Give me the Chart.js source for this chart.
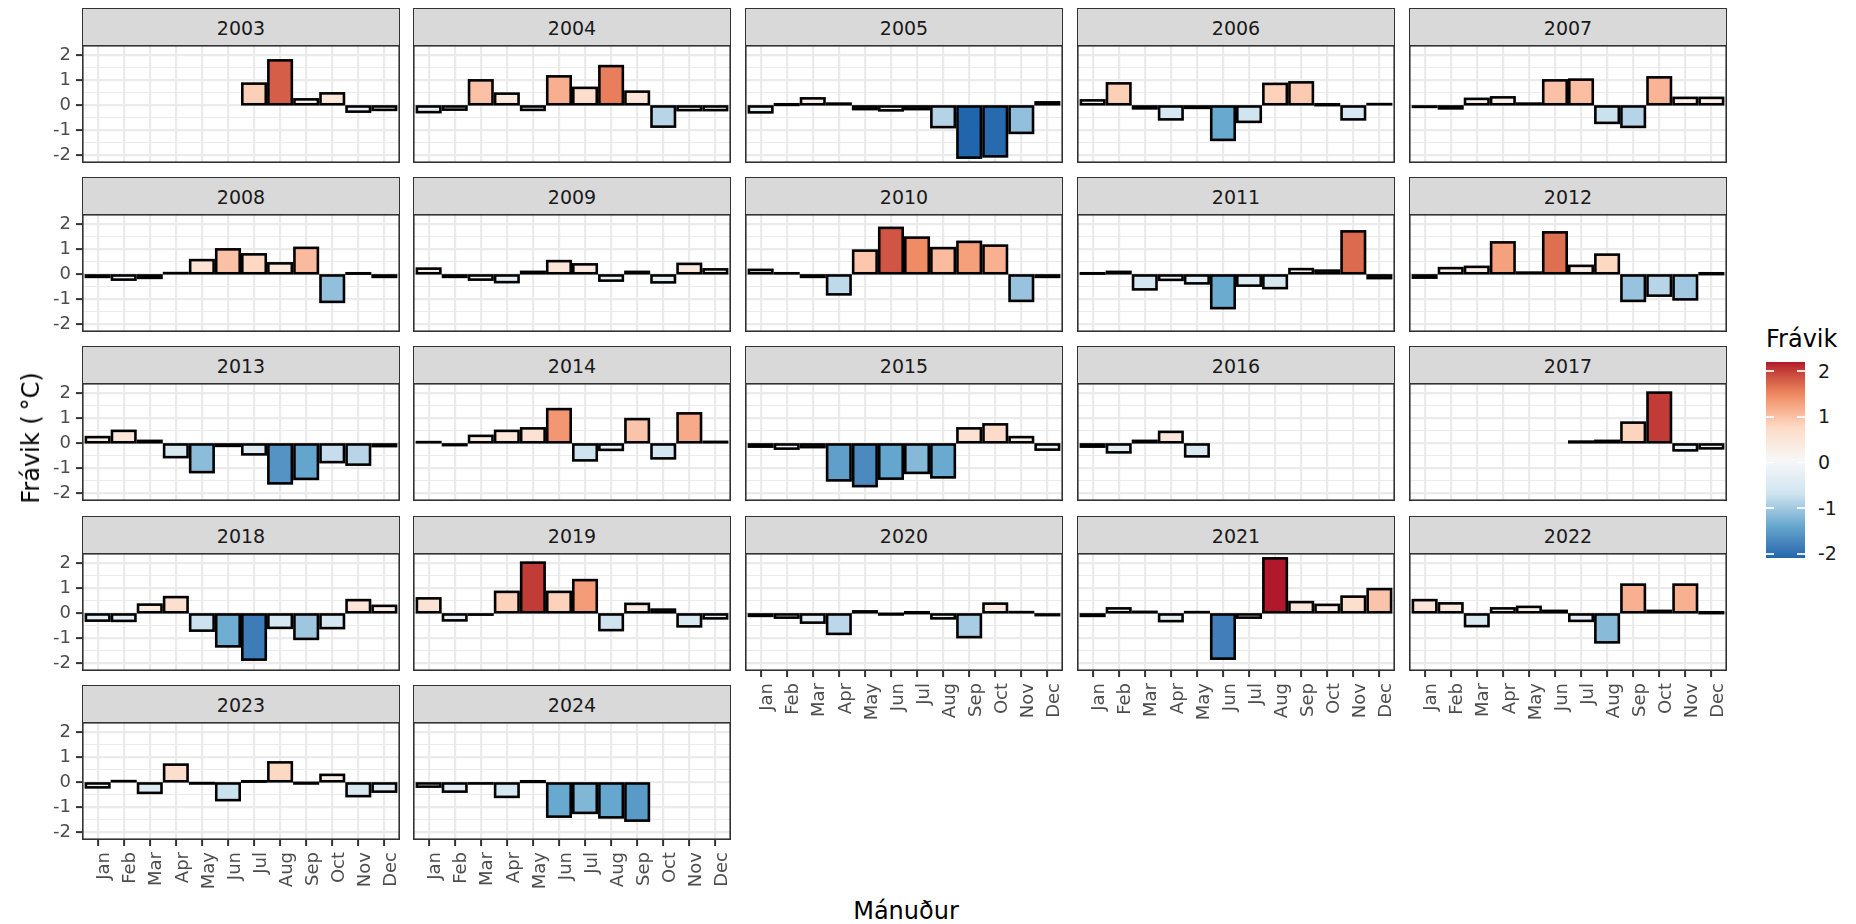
<!DOCTYPE html>
<html>
<head>
<meta charset="utf-8">
<script src="https://cdn.jsdelivr.net/npm/chart.js@4.4.1/dist/chart.umd.min.js"></script>
<style>
  html, body { margin: 0; padding: 0; background: #fff; }
  #fig { position: relative; width: 1856px; height: 924px; overflow: hidden; font-family: 'DejaVu Sans', sans-serif; }
  .strip { position: absolute; box-sizing: border-box; background: #D9D9D9; border: 1.6px solid #333; color: #1A1A1A;
           font-size: 19px; line-height: 1; display: flex; align-items: center; justify-content: center; padding-top: 2px; }
  canvas { position: absolute; }
  .txt { position: absolute; white-space: nowrap; line-height: 1; }
</style>
</head>
<body>
<div id="fig"></div>
<script>
// Monthly temperature anomaly (°C) per year
const months = ['Jan','Feb','Mar','Apr','May','Jun','Jul','Aug','Sep','Oct','Nov','Dec'];
const years = [2003,2004,2005,2006,2007,2008,2009,2010,2011,2012,2013,2014,2015,2016,2017,2018,2019,2020,2021,2022,2023,2024];

const y2003 = [null,null,null,null,null,null,0.87,1.8,0.24,0.48,-0.25,-0.18];
const y2004 = [-0.27,-0.17,1.0,0.47,-0.18,1.16,0.7,1.57,0.55,-0.85,-0.19,-0.19];
const y2005 = [-0.28,0.02,0.28,0.07,-0.15,-0.2,-0.15,-0.87,-2.09,-2.04,-1.1,0.12];
const y2006 = [0.2,0.88,-0.12,-0.56,-0.1,-1.38,-0.66,0.86,0.92,0.01,-0.56,0.05];
const y2007 = [-0.06,-0.12,0.26,0.32,0.07,1.0,1.03,-0.7,-0.86,1.12,0.3,0.3];
const y2008 = [-0.1,-0.21,-0.14,0.05,0.57,1.0,0.8,0.44,1.06,-1.1,0.03,-0.1];
const y2009 = [0.23,-0.1,-0.21,-0.31,0.1,0.53,0.4,-0.25,0.1,-0.32,0.42,0.2];
const y2010 = [0.18,0.04,-0.1,-0.8,0.95,1.86,1.47,1.05,1.3,1.15,-1.06,-0.1];
const y2011 = [0.03,0.1,-0.6,-0.22,-0.36,-1.35,-0.45,-0.55,0.21,0.15,1.72,-0.15];
const y2012 = [-0.13,0.25,0.3,1.28,0.07,1.68,0.34,0.79,-1.06,-0.85,-1.0,0.01];
const y2013 = [0.25,0.5,0.1,-0.55,-1.15,-0.1,-0.44,-1.6,-1.42,-0.75,-0.85,-0.11];
const y2014 = [0.05,-0.07,0.3,0.5,0.6,1.37,-0.68,-0.26,0.97,-0.6,1.2,0.06];
const y2015 = [-0.13,-0.21,-0.15,-1.48,-1.71,-1.41,-1.18,-1.36,0.6,0.76,0.25,-0.25];
const y2016 = [-0.13,-0.36,0.1,0.46,-0.52,null,null,null,null,null,null,null];
const y2017 = [null,null,null,null,null,null,0.07,0.1,0.83,2.03,-0.28,-0.2];
const y2018 = [-0.29,-0.3,0.35,0.65,-0.69,-1.32,-1.85,-0.58,-1.02,-0.59,0.53,0.3];
const y2019 = [0.6,-0.28,-0.05,0.86,2.03,0.86,1.33,-0.67,0.38,0.15,-0.52,-0.2];
const y2020 = [-0.1,-0.17,-0.37,-0.82,0.08,-0.02,0.01,-0.2,-0.95,0.39,0.05,-0.07];
const y2021 = [-0.1,0.2,0.06,-0.31,0.05,-1.81,-0.17,2.2,0.45,0.34,0.67,0.97];
const y2022 = [0.53,0.4,-0.51,0.2,0.26,0.1,-0.3,-1.16,1.15,0.1,1.15,0.01];
const y2023 = [-0.2,0.05,-0.42,0.71,-0.03,-0.71,0.03,0.8,-0.02,0.3,-0.55,-0.37];
const y2024 = [-0.17,-0.37,-0.04,-0.58,0.02,-1.37,-1.22,-1.4,-1.53,null,null,null];

const series = [y2003,y2004,y2005,y2006,y2007,y2008,y2009,y2010,y2011,y2012,y2013,y2014,
                y2015,y2016,y2017,y2018,y2019,y2020,y2021,y2022,y2023,y2024];

const yTicks = [-2,-1.5,-1,-0.5,0,0.5,1,1.5,2];
const legendTicks = [2,1,0,-1,-2];

// ---- diverging fill scale (RdBu, interpolated in CIE Lab) ----
const palette = ['#2166AC','#67A9CF','#D1E5F0','#F7F7F7','#FDDBC7','#EF8A62','#B2182B'];
const WHITE = [0.95047, 1.0, 1.08883];
const EPS = 216/24389, KAPPA = 24389/27;
function toLin(c){ c /= 255; return c <= 0.04045 ? c/12.92 : Math.pow((c+0.055)/1.055, 2.4); }
function fromLin(c){ const v = c <= 0.0031308 ? 12.92*c : 1.055*Math.pow(c, 1/2.4) - 0.055; return Math.round(Math.max(0, Math.min(1, v))*255); }
function fLab(t){ return t > EPS ? Math.cbrt(t) : (KAPPA*t + 16)/116; }
function fInv(t){ const t3 = t*t*t; return t3 > EPS ? t3 : (116*t - 16)/KAPPA; }
function hexToLab(h){
  const [r,g,b] = [1,3,5].map(i => toLin(parseInt(h.slice(i,i+2),16)));
  const X = 0.4124564*r + 0.3575761*g + 0.1804375*b;
  const Y = 0.2126729*r + 0.7151522*g + 0.0721750*b;
  const Z = 0.0193339*r + 0.1191920*g + 0.9503041*b;
  const fx = fLab(X/WHITE[0]), fy = fLab(Y/WHITE[1]), fz = fLab(Z/WHITE[2]);
  return [116*fy - 16, 500*(fx - fy), 200*(fy - fz)];
}
function labToCss([L,a,b]){
  const fy = (L + 16)/116, fx = fy + a/500, fz = fy - b/200;
  const X = fInv(fx)*WHITE[0], Y = fInv(fy)*WHITE[1], Z = fInv(fz)*WHITE[2];
  const r =  3.2404542*X - 1.5371385*Y - 0.4985314*Z;
  const g = -0.9692660*X + 1.8760108*Y + 0.0415560*Z;
  const bb = 0.0556434*X - 0.2040259*Y + 1.0572252*Z;
  return `rgb(${fromLin(r)},${fromLin(g)},${fromLin(bb)})`;
}
const paletteLab = palette.map(hexToLab);

const allValues = series.flat().filter(v => v !== null);
const lo = Math.min(...allValues), hi = Math.max(...allValues);

function fillFor(v){
  let t = (v - lo)/(hi - lo);
  t = Math.max(0, Math.min(1, t));
  const s = t*(paletteLab.length - 1);
  const i = Math.min(Math.floor(s), paletteLab.length - 2);
  const f = s - i;
  const A = paletteLab[i], B = paletteLab[i+1];
  return labToCss([A[0]+(B[0]-A[0])*f, A[1]+(B[1]-A[1])*f, A[2]+(B[2]-A[2])*f]);
}

// ---- layout ----
const FONT = "'DejaVu Sans', sans-serif";
const colLeft = [82, 413, 745, 1077, 1409];
const stripTop = [8, 177, 346, 516, 685];
const panelW = 318, stripH = 38, panelH = 118;
const Y_AXIS_W = 50, X_AXIS_H = 70;
const yPad = 0.05*(hi - lo);
const yMin = lo - yPad, yMax = hi + yPad;

const fig = document.getElementById('fig');

function zeroPadding(s){ s.paddingLeft = 0; s.paddingRight = 0; s.paddingTop = 0; s.paddingBottom = 0; }

// black outline around each bar, stroked on the bar edges
const outlinePlugin = {
  id: 'barOutline',
  afterDatasetsDraw(chart){
    const {ctx, chartArea: a} = chart;
    ctx.save();
    ctx.beginPath(); ctx.rect(a.left, a.top, a.right - a.left, a.bottom - a.top); ctx.clip();
    ctx.strokeStyle = '#000'; ctx.lineWidth = 2.6;
    chart.getDatasetMeta(0).data.forEach(bar => {
      const {x, y, base, width} = bar.getProps(['x','y','base','width'], true);
      ctx.strokeRect(x - width/2, Math.min(y, base), width, Math.abs(base - y));
    });
    ctx.restore();
  }
};

// panel frame
const framePlugin = {
  id: 'panelFrame',
  afterDraw(chart){
    const {ctx, chartArea: a} = chart;
    ctx.save();
    ctx.strokeStyle = '#333'; ctx.lineWidth = 1.6;
    ctx.strokeRect(a.left + 0.8, a.top + 0.8, a.right - a.left - 1.6, a.bottom - a.top - 1.6);
    ctx.restore();
  }
};

years.forEach((yr, i) => {
  const r = Math.floor(i/5), c = i % 5;
  const isLeft = c === 0;
  const isBottom = i + 5 >= years.length;
  const left = colLeft[c], sTop = stripTop[r], pTop = sTop + stripH - 1;

  const strip = document.createElement('div');
  strip.className = 'strip';
  strip.style.left = left + 'px'; strip.style.top = sTop + 'px';
  strip.style.width = panelW + 'px'; strip.style.height = stripH + 'px';
  strip.textContent = String(yr);
  fig.appendChild(strip);

  const cv = document.createElement('canvas');
  const cw = panelW + (isLeft ? Y_AXIS_W : 0);
  const ch = panelH + (isBottom ? X_AXIS_H : 0);
  cv.width = cw; cv.height = ch;
  cv.style.width = cw + 'px'; cv.style.height = ch + 'px';
  cv.style.left = (left - (isLeft ? Y_AXIS_W : 0)) + 'px';
  cv.style.top = pTop + 'px';
  fig.appendChild(cv);

  const pts = [];
  series[i].forEach((v, k) => { if (v !== null) pts.push({x: k + 1, y: v}); });

  new Chart(cv, {
    type: 'bar',
    data: { datasets: [{ data: pts, backgroundColor: pts.map(p => fillFor(p.y)), borderWidth: 0,
                         barPercentage: 0.9, categoryPercentage: 1.0 }] },
    options: {
      responsive: false, animation: false, events: [],
      layout: { padding: 0 },
      plugins: { legend: { display: false }, tooltip: { enabled: false } },
      scales: {
        x: {
          type: 'linear', min: 0.4, max: 12.6, offset: false,
          afterBuildTicks: s => { s.ticks = months.map((m, k) => ({ value: k + 1 })); },
          afterFit: s => { s.height = isBottom ? X_AXIS_H : 0; zeroPadding(s); },
          border: { display: false },
          grid: { offset: false, color: '#EBEBEB', lineWidth: 2.2, drawTicks: isBottom,
                  tickLength: 6, tickColor: '#333', tickWidth: 2 },
          ticks: { display: isBottom, autoSkip: false, minRotation: 90, maxRotation: 90,
                   padding: 6, labelOffset: 7, color: '#4D4D4D', font: { family: FONT, size: 18 },
                   callback: v => months[v - 1] }
        },
        y: {
          type: 'linear', min: yMin, max: yMax,
          afterBuildTicks: s => { s.ticks = yTicks.map(v => ({ value: v })); },
          afterFit: s => { s.width = isLeft ? Y_AXIS_W : 0; zeroPadding(s); },
          border: { display: false },
          grid: { color: '#EBEBEB',
                  lineWidth: ctx => Number.isInteger(ctx.tick.value) ? 2.2 : 1.1,
                  drawTicks: isLeft, tickLength: 6, tickWidth: 2,
                  tickColor: ctx => Number.isInteger(ctx.tick.value) ? '#333' : 'rgba(0,0,0,0)' },
          ticks: { display: isLeft, autoSkip: false, padding: 5, color: '#4D4D4D', font: { family: FONT, size: 18 },
                   callback: v => Number.isInteger(v) ? String(v) : '' }
        }
      }
    },
    plugins: [outlinePlugin, framePlugin]
  });
});

// ---- axis titles ----
function addText(text, css){
  const d = document.createElement('div');
  d.className = 'txt';
  d.textContent = text;
  Object.assign(d.style, css);
  fig.appendChild(d);
  return d;
}
addText('Mánuður', { left: '906px', top: '899px', fontSize: '24px', color: '#000', transform: 'translateX(-50%)' });
addText('Frávik (\u2009°C)', { left: '31px', top: '438px', fontSize: '24px', color: '#000',
                               transform: 'translate(-50%,-50%) rotate(-90deg)' });

// ---- colour bar legend ----
const LG = { left: 1766, top: 362, width: 39, height: 196 };
addText('Frávik', { left: '1766px', top: '327px', fontSize: '24px', color: '#000' });
const stops = [];
for (let k = 0; k <= 40; k++) {
  const v = lo + (hi - lo)*k/40;
  stops.push(`${fillFor(v)} ${(k*2.5).toFixed(1)}%`);
}
const bar = document.createElement('div');
Object.assign(bar.style, { position: 'absolute', left: LG.left + 'px', top: LG.top + 'px',
  width: LG.width + 'px', height: LG.height + 'px', background: `linear-gradient(to top, ${stops.join(',')})` });
fig.appendChild(bar);
legendTicks.forEach(v => {
  const y = LG.top + (hi - v)/(hi - lo)*LG.height;
  [LG.left, LG.left + LG.width - 8].forEach(x => {
    const t = document.createElement('div');
    Object.assign(t.style, { position: 'absolute', left: x + 'px', top: (y - 0.8) + 'px', width: '8px',
                             height: '1.6px', background: 'rgba(255,255,255,0.85)' });
    fig.appendChild(t);
  });
  addText(String(v), { left: '1818px', top: (y - 9.5) + 'px', fontSize: '19px', color: '#1A1A1A' });
});
</script>
</body>
</html>
